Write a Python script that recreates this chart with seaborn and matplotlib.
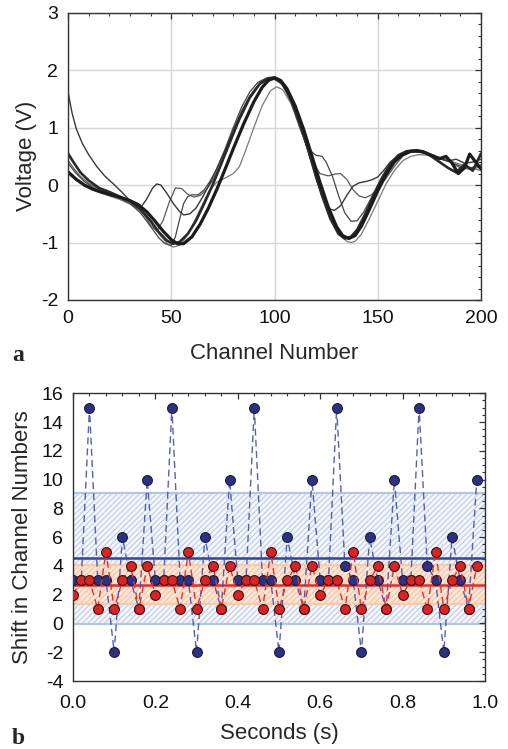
import numpy as np
import matplotlib
matplotlib.use("Agg")
import matplotlib.pyplot as plt
from matplotlib.ticker import MultipleLocator
import seaborn as sns
import pandas as pd

sns.set_style("white")
plt.rcParams['font.family'] = ['Liberation Sans', 'DejaVu Sans']
plt.rcParams['hatch.linewidth'] = 0.8
plt.rcParams['axes.unicode_minus'] = False

# ---------------- panel a : waveforms ----------------
a_x = [0,4,8,12,16,20,25,30,34,38,42,46,50,53,56,60,64,68,72,76,80,85,90,94,97,100,103,106,110,114,118,122,126,130,133,136,139,142,146,150,154,158,162,166,169,172,176,180,183,186,189,192,194.5,197,200]
a_y = [0.23,0.10,0.0,-0.07,-0.12,-0.16,-0.21,-0.27,-0.34,-0.46,-0.62,-0.80,-0.95,-1.02,-1.02,-0.90,-0.68,-0.40,-0.08,0.27,0.63,1.06,1.45,1.70,1.82,1.87,1.82,1.68,1.38,0.98,0.52,0.05,-0.38,-0.72,-0.88,-0.93,-0.88,-0.72,-0.42,-0.10,0.18,0.40,0.53,0.59,0.60,0.58,0.52,0.46,0.50,0.38,0.20,0.30,0.54,0.42,0.28]

b_x = [0,3,6,10,15,20,25,30,35,40,44,48,51,54,58,62,66,70,74,78,83,88,93,97,100,103,107,111,115,119,123,127,131,134,137,140,144,148,152,156,160,164,168,172,176,180,184,188,192,196,200]
b_y = [0.55,0.38,0.22,0.08,-0.05,-0.12,-0.20,-0.28,-0.42,-0.62,-0.82,-0.97,-1.02,-0.99,-0.85,-0.62,-0.32,0.0,0.35,0.72,1.15,1.52,1.77,1.86,1.87,1.80,1.58,1.22,0.78,0.30,-0.18,-0.58,-0.85,-0.93,-0.90,-0.78,-0.50,-0.18,0.12,0.36,0.52,0.59,0.60,0.58,0.50,0.40,0.30,0.22,0.36,0.25,0.55]

c_x = [0,2,4,7,10,14,18,22,26,30,33,35,38,41,43,45,48,51,54,56,59,62,65,68,72,76,80,84,88,92,96,100,104,108,112,116,120,124,127,129,132,135,138,141,144,147,150,153,156,160,164,168,172,176,180,184,188,192,196,200]
c_y = [1.62,1.25,0.98,0.72,0.53,0.32,0.15,0.02,-0.12,-0.27,-0.38,-0.40,-0.25,-0.05,0.02,0.0,-0.15,-0.32,-0.46,-0.52,-0.50,-0.40,-0.22,-0.02,0.28,0.60,0.95,1.28,1.55,1.73,1.82,1.84,1.76,1.50,1.10,0.62,0.12,-0.28,-0.42,-0.44,-0.36,-0.18,-0.02,0.04,0.06,0.09,0.14,0.26,0.40,0.52,0.57,0.58,0.56,0.52,0.46,0.42,0.45,0.38,0.40,0.45]

d_x = [0,3,6,10,15,20,25,30,34,37,40,43,46,49,52,55,58,61,64,67,70,74,78,82,86,90,94,98,101,104,108,112,116,119,122,126,129,132,135,138,141,144,147,150,154,158,162,166,170,174,178,182,186,190,194,198,200]
d_y = [0.43,0.28,0.15,0.03,-0.07,-0.14,-0.20,-0.28,-0.38,-0.52,-0.70,-0.80,-0.62,-0.30,-0.05,-0.06,-0.16,-0.21,-0.18,-0.08,0.08,0.35,0.68,1.05,1.40,1.65,1.80,1.85,1.84,1.76,1.48,1.05,0.70,0.38,0.20,0.16,0.19,0.20,0.10,-0.08,-0.19,-0.22,-0.17,-0.05,0.12,0.32,0.50,0.57,0.58,0.55,0.50,0.46,0.38,0.30,0.28,0.30,0.32]

e_x = [0,4,8,12,16,20,25,30,35,40,44,47,50,52,54,56,58,60,63,66,69,72,76,80,84,88,92,96,100,104,108,112,116,120,123,125,128,131,134,137,140,143,146,150,154,158,162,166,170,175,180,185,190,195,200]
e_y = [0.38,0.20,0.06,-0.04,-0.11,-0.17,-0.23,-0.32,-0.48,-0.72,-0.92,-1.02,-1.05,-0.90,-0.60,-0.32,-0.20,-0.17,-0.17,-0.08,0.08,0.28,0.62,1.00,1.35,1.62,1.79,1.86,1.85,1.74,1.44,1.02,0.64,0.52,0.50,0.40,0.16,-0.18,-0.48,-0.63,-0.62,-0.48,-0.28,0.0,0.25,0.45,0.55,0.58,0.58,0.53,0.46,0.40,0.33,0.30,0.35]

f_x = [0,4,8,12,16,20,25,30,35,40,44,48,51,54,57,60,64,68,72,76,80,83,86,90,94,98,101,104,108,112,116,120,124,128,132,135,137,139,142,146,150,154,158,162,166,170,175,180,185,190,195,200]
f_y = [0.20,0.08,-0.02,-0.09,-0.14,-0.19,-0.25,-0.33,-0.45,-0.65,-0.85,-1.02,-1.08,-1.05,-0.92,-0.72,-0.42,-0.12,0.05,0.12,0.20,0.32,0.60,1.00,1.38,1.64,1.71,1.66,1.42,1.05,0.62,0.18,-0.25,-0.62,-0.88,-0.98,-1.00,-0.98,-0.86,-0.58,-0.28,0.02,0.25,0.42,0.50,0.53,0.52,0.47,0.42,0.36,0.30,0.25]

# ---------------- panel b : shifts ----------------
seconds = [0.00,0.02,0.04,0.06,0.08,0.10,0.12,0.14,0.16,0.18,
           0.20,0.22,0.24,0.26,0.28,0.30,0.32,0.34,0.36,0.38,
           0.40,0.42,0.44,0.46,0.48,0.50,0.52,0.54,0.56,0.58,
           0.60,0.62,0.64,0.66,0.68,0.70,0.72,0.74,0.76,0.78,
           0.80,0.82,0.84,0.86,0.88,0.90,0.92,0.94,0.96,0.98]
shift_blue = [3,3,15,3,3,-2,6,3,1,10,
              3,3,15,3,3,-2,6,3,1,10,
              3,3,15,3,3,-2,6,3,1,10,
              3,3,15,4,3,-2,6,3,1,10,
              3,3,15,4,3,-2,6,3,1,10]
shift_red = [2,3,3,1,5,1,3,4,1,4,
             2,3,3,1,5,1,3,4,1,4,
             2,3,3,1,5,1,3,4,1,4,
             2,3,3,1,5,1,3,4,1,4,
             2,3,3,1,5,1,3,4,1,4]

W, H = 508, 749
fig = plt.figure(figsize=(W/100, H/100), dpi=100)
ax1 = fig.add_axes([68/W, 1-300/H, 413/W, 287.3/H])
ax2 = fig.add_axes([73/W, 1-681/H, 412/W, 287.7/H])

curves = [
    (f_x, f_y, '#7a7a7a', 0.9),
    (d_x, d_y, '#5a5a5a', 0.9),
    (e_x, e_y, '#464646', 0.9),
    (c_x, c_y, '#383838', 1.0),
    (b_x, b_y, '#2a2a2a', 1.9),
    (a_x, a_y, '#1c1c1c', 2.3),
]
for xs, ys, col, lw in curves:
    sns.lineplot(x=xs, y=ys, ax=ax1, color=col, linewidth=lw,
                 estimator=None, sort=False, legend=False)

ax1.set_xlim(0, 200)
ax1.set_ylim(-2, 3)
ax1.xaxis.set_major_locator(MultipleLocator(50))
ax1.xaxis.set_minor_locator(MultipleLocator(10))
ax1.yaxis.set_major_locator(MultipleLocator(1))
ax1.yaxis.set_minor_locator(MultipleLocator(0.2))
ax1.grid(True, which='major', color='#d6d6d6', linewidth=1.0)
ax1.set_axisbelow(True)
ax1.set_xlabel('Channel Number', fontsize=16, labelpad=12)
ax1.set_ylabel('Voltage (V)', fontsize=16, labelpad=3)

# panel b
sky = '#b4c5ea'
blue_lo = np.mean(shift_blue) - np.std(shift_blue)
blue_hi = np.mean(shift_blue) + np.std(shift_blue)
red_lo = np.mean(shift_red) - np.std(shift_red)
red_hi = np.mean(shift_red) + np.std(shift_red)
ax2.axhspan(blue_lo, blue_hi, facecolor='#f5f7fc', edgecolor='#bccbec',
            hatch='//////', linewidth=0, zorder=0)
for v in (blue_lo, blue_hi):
    ax2.axhline(v, color=sky, linewidth=1.6, zorder=0.5)
ax2.axhspan(red_lo, red_hi, facecolor='#fde7d8', edgecolor='#f7c3a0',
            hatch='//////', linewidth=0, zorder=0.6)
for v in (red_lo, red_hi):
    ax2.axhline(v, color='#f8c9aa', linewidth=1.6, zorder=0.7)

ax2.axhline(np.mean(shift_blue), color='#34439a', linewidth=1.8, zorder=1)
ax2.axhline(np.mean(shift_red), color='#e52a2c', linewidth=1.8, zorder=1)

df = pd.DataFrame({'t': seconds, 'blue': shift_blue, 'red': shift_red})
sns.lineplot(data=df, x='t', y='blue', ax=ax2, color='#4150a8', linewidth=1.0,
             linestyle=(0, (5, 3)), estimator=None, sort=False, zorder=2, alpha=0.9)
sns.scatterplot(data=df, x='t', y='blue', ax=ax2, color='#2d3184', edgecolor='#1a1a3a',
                linewidth=0.8, s=50, zorder=3)
sns.lineplot(data=df, x='t', y='red', ax=ax2, color='#e8302c', linewidth=1.0,
             linestyle=(0, (5, 3)), estimator=None, sort=False, zorder=4)
sns.scatterplot(data=df, x='t', y='red', ax=ax2, color='#dc2222', edgecolor='#3a1414',
                linewidth=0.8, s=50, zorder=5)

ax2.set_xlim(0, 1.0)
ax2.set_ylim(-4, 16)
ax2.xaxis.set_major_locator(MultipleLocator(0.2))
ax2.xaxis.set_minor_locator(MultipleLocator(0.04))
ax2.yaxis.set_major_locator(MultipleLocator(2))
ax2.yaxis.set_minor_locator(MultipleLocator(0.5))
ax2.xaxis.set_major_formatter(matplotlib.ticker.FormatStrFormatter('%.1f'))
ax2.set_xlabel('Seconds (s)', fontsize=16, labelpad=8)
ax2.set_ylabel('Shift in Channel Numbers', fontsize=16, labelpad=6)

for ax in (ax1, ax2):
    for s in ax.spines.values():
        s.set_color('#333333')
        s.set_linewidth(1.0)
    ax.tick_params(which='both', direction='in', top=True, right=True,
                   colors='#333333', labelcolor='#111111')
    ax.tick_params(which='major', length=4, width=0.9, labelsize=14, pad=7)
    ax.tick_params(which='minor', length=2.5, width=0.8)
ax2.tick_params(axis='x', which='major', pad=10)

fig.text(12/W, 1-356/H, 'a', fontsize=17, fontweight='bold',
         family=['Liberation Serif', 'DejaVu Serif'], va='center', ha='left')
fig.text(12/W, 1-738/H, 'b', fontsize=17, fontweight='bold',
         family=['Liberation Serif', 'DejaVu Serif'], va='center', ha='left')

fig.savefig('out.png', dpi=100)
